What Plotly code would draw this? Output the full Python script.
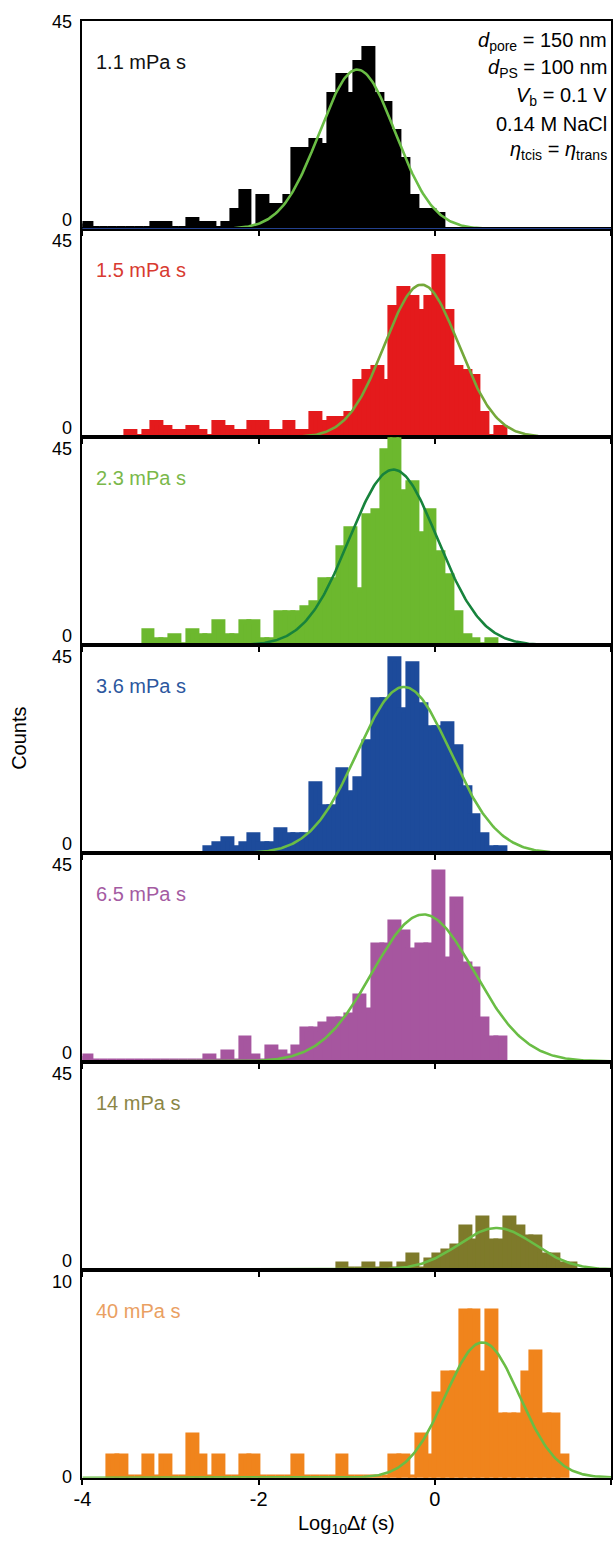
import numpy as np
import plotly.graph_objects as go

W, H = 614, 1541

# ---------------- data ----------------
x_range = [-4, 2]
x_tick_vals = [-4, -2, 0, 2]
x_tick_text = ["-4", "-2", "0", "2"]
bin_width = 0.1

viscosity_labels = ["1.1 mPa s", "1.5 mPa s", "2.3 mPa s", "3.6 mPa s",
                    "6.5 mPa s", "14 mPa s", "40 mPa s"]
y_max = [45, 45, 45, 45, 45, 45, 10]

# first bin centre of each histogram and the counts of consecutive 0.1-wide bins
p1_start = -3.95
p1_counts = [1, 0, 0, 0, 0, 0, 0, 0, 1, 1, 0, 0, 2, 1, 1, 0, 1, 4, 8, 0, 7, 5, 5, 7,
             17, 17, 19, 18, 29, 33, 29, 36, 39, 29, 27, 21, 15, 7, 4, 4, 3]
p2_start = -3.45
p2_counts = [1, 0, 1, 3, 2, 1, 1, 2, 1, 0, 3, 2, 1, 1, 3, 3, 1, 1, 3, 1, 1, 5, 3, 4, 4,
             5, 12, 14, 15, 12, 28, 32, 30, 27, 30, 39, 27, 15, 14, 13, 5, 0, 2]
p3_start = -3.25
p3_counts = [3, 1, 1, 2, 0, 3, 2, 2, 5, 2, 2, 5, 5, 1, 1, 7, 7, 7, 8, 9, 14, 14, 21, 25,
             12, 28, 29, 42, 46, 33, 35, 24, 29, 20, 15, 7, 2, 1, 0, 1]
p4_start = -2.55
p4_counts = [1, 2, 3, 1, 2, 4, 2, 2, 5, 4, 4, 4, 15, 10, 10, 18, 13, 16, 24, 33, 33, 42,
             31, 41, 32, 27, 27, 28, 23, 14, 8, 4, 1, 1]
p5_start = -3.95
p5_counts = [1, 0, 0, 0, 0, 0, 0, 0, 0, 0, 0, 0, 0, 0, 1, 0, 2, 0, 5, 1, 0, 3, 2, 1, 3,
             7, 7, 8, 9, 9, 10, 14, 11, 25, 25, 30, 28, 24, 25, 25, 41, 22, 35, 21, 20,
             9, 5, 5]
p6_start = -1.05
p6_counts = [1, 0, 0, 1, 0, 1, 0, 1, 3, 0, 2, 3, 4, 5, 9, 6, 11, 6, 6, 11, 9, 7, 7, 3,
             3, 1, 1]
p7_start = -3.65
p7_counts = [1, 1, 0, 0, 1, 0, 1, 0, 0, 2, 1, 0, 1, 0, 0, 1, 1, 0, 0, 0, 0, 1, 0, 0, 0,
             0, 1, 0, 0, 0, 0, 0, 1, 1, 0, 2, 1, 4, 5, 5, 8, 8, 5, 8, 3, 3, 3, 5, 6, 3,
             3, 1]

starts = [p1_start, p2_start, p3_start, p4_start, p5_start, p6_start, p7_start]
counts = [p1_counts, p2_counts, p3_counts, p4_counts, p5_counts, p6_counts, p7_counts]

# Gaussian fit parameters
fit_mu = [-0.88, -0.15, -0.47, -0.35, -0.13, 0.70, 0.54]
fit_sigma = [0.43, 0.42, 0.50, 0.53, 0.58, 0.43, 0.42]
fit_amp = [34.5, 33.0, 38.0, 36.0, 31.8, 9.0, 6.5]

bar_colors = ["#000000", "#e41a1c", "#6cb82e", "#1d4b9b", "#a6569f", "#7e7a2a", "#f0841c"]
label_colors = ["#111111", "#d83a30", "#7ab84a", "#2c579e", "#a45ba2", "#8b8645", "#eaa062"]
fit_colors = ["#6abd45", "#74a83a", "#17833c", "#6abd45", "#6abd45", "#6abd45", "#6abd45"]

info_lines = ["<i>d</i><sub>pore</sub> = 150 nm",
              "<i>d</i><sub>PS</sub> = 100 nm",
              "<i>V</i><sub>b</sub> = 0.1 V",
              "0.14 M NaCl",
              "<i>η</i><sub>tcis</sub> = <i>η</i><sub>trans</sub>"]

# ---------------- layout geometry (pixels) ----------------
plot_left, plot_right = 74.5, 611.0
panel_top0, panel_h = 21.0, 208.1
FONT = "Liberation Sans, Arial, Helvetica, sans-serif"
FS = 20
TFS = 18

fig = go.Figure()
x_dom = [plot_left / W, plot_right / W]
curve_x = np.linspace(x_range[0], x_range[1], 400)

for i in range(7):
    n = i + 1
    xa = "x" if n == 1 else f"x{n}"
    ya = "y" if n == 1 else f"y{n}"
    top = panel_top0 + panel_h * i
    bot = top + panel_h
    ydom = [1 - bot / H, 1 - top / H]

    centers = np.round(starts[i] + bin_width * np.arange(len(counts[i])), 2)
    fig.add_trace(go.Bar(
        x=centers, y=counts[i], width=bin_width,
        marker=dict(color=bar_colors[i], line=dict(color=bar_colors[i], width=5)),
        xaxis=xa, yaxis=ya, showlegend=False, hoverinfo="skip"))

    fit_y = fit_amp[i] * np.exp(-(curve_x - fit_mu[i]) ** 2 / (2 * fit_sigma[i] ** 2))
    fig.add_trace(go.Scatter(
        x=curve_x, y=fit_y, mode="lines",
        line=dict(color=fit_colors[i], width=2.6),
        xaxis=xa, yaxis=ya, showlegend=False, hoverinfo="skip", cliponaxis=True))

    xkey = "xaxis" if n == 1 else f"xaxis{n}"
    ykey = "yaxis" if n == 1 else f"yaxis{n}"
    fig.update_layout({
        xkey: dict(domain=x_dom, range=x_range, anchor=ya,
                   tickvals=x_tick_vals, ticktext=x_tick_text,
                   showticklabels=(n == 7), ticks="outside", ticklen=5, tickwidth=1.6,
                   tickcolor="black", showline=True, linecolor="black", linewidth=2,
                   mirror=True, showgrid=False, zeroline=False,
                   ticklabelstandoff=-3,
                   tickfont=dict(family=FONT, size=FS, color="black")),
        ykey: dict(domain=ydom, range=[0, y_max[i]], anchor=xa,
                   showticklabels=False, ticks="", showline=True, linecolor="black",
                   linewidth=2, mirror=True, showgrid=False, zeroline=False),
    })

    # y tick labels (staggered like the original)
    top_shift = -1 if n == 1 else -12
    bot_shift = 1 if n == 7 else 9
    fig.add_annotation(text=str(y_max[i]), xref="paper", x=66 / W, yref=ya, y=y_max[i],
                       xanchor="right", yanchor="middle", yshift=top_shift,
                       showarrow=False, font=dict(family=FONT, size=TFS, color="black"))
    fig.add_annotation(text="0", xref="paper", x=66 / W, yref=ya, y=0,
                       xanchor="right", yanchor="middle", yshift=bot_shift,
                       showarrow=False, font=dict(family=FONT, size=TFS, color="black"))

    # viscosity label
    fig.add_annotation(text=viscosity_labels[i], xref="paper", x=86 / W,
                       yref="paper", y=1 - (top + 41) / H, xanchor="left",
                       yanchor="middle", showarrow=False,
                       font=dict(family=FONT, size=FS, color=label_colors[i]))

# blue zero line of the first panel
fig.add_shape(type="line", xref="x domain", x0=0, x1=1, yref="y", y0=0, y1=0,
              line=dict(color="#23408e", width=2))

# conditions text in first panel
info_y = [41, 68.5, 96, 123.5, 151]
for t, yy in zip(info_lines, info_y):
    fig.add_annotation(text=t, xref="paper", x=609 / W, yref="paper", y=1 - yy / H,
                       xanchor="right", yanchor="middle", showarrow=False,
                       font=dict(family=FONT, size=FS, color="black"))

# axis titles
fig.add_annotation(text="Counts", xref="paper", x=10 / W, yref="paper", y=1 - 738 / H,
                   textangle=-90, xanchor="center", yanchor="middle", showarrow=False,
                   font=dict(family=FONT, size=FS, color="black"))
fig.add_annotation(text="Log<sub>10</sub>Δ<i>t</i> (s)", xref="paper", x=343 / W,
                   yref="paper", y=1 - 1524 / H, xanchor="center", yanchor="middle",
                   showarrow=False, font=dict(family=FONT, size=FS, color="black"))

fig.update_layout(width=W, height=H, margin=dict(l=0, r=0, t=0, b=0),
                  paper_bgcolor="white", plot_bgcolor="white", bargap=0,
                  font=dict(family=FONT, size=FS, color="black"))

fig.write_html("out.html", config={"displayModeBar": False})
